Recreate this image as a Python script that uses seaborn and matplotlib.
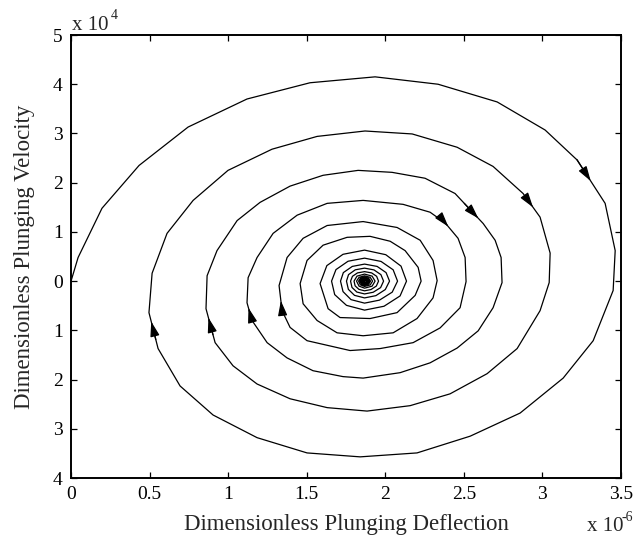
import numpy as np
import pandas as pd
import matplotlib
matplotlib.use("Agg")
import matplotlib.pyplot as plt
import seaborn as sns

# ---------------- data (x in units of 1e-6, y in units of 1e4) ----------------
loop1_x = [0.000, 0.045, 0.197, 0.433, 0.745, 1.120, 1.521, 1.935, 2.336, 2.712, 3.017, 3.221,
           3.399, 3.463, 3.450, 3.323, 3.132, 2.858, 2.540, 2.202, 1.840, 1.502, 1.184, 0.904,
           0.694, 0.554, 0.496]
loop1_y = [0.00, 0.48, 1.48, 2.35, 3.13, 3.70, 4.03, 4.15, 4.00, 3.64, 3.07, 2.46,
           1.58, 0.62, -0.19, -1.21, -1.97, -2.68, -3.15, -3.49, -3.57, -3.49, -3.18, -2.72,
           -2.13, -1.37, -0.64]

loop2_x = [0.516, 0.611, 0.777, 0.999, 1.279, 1.566, 1.871, 2.171, 2.457, 2.686, 2.877, 2.985,
           3.049, 3.043, 2.985, 2.839, 2.648, 2.412, 2.158, 1.884, 1.630, 1.394, 1.184, 1.031,
           0.917, 0.859]
loop2_y = [0.16, 0.97, 1.64, 2.25, 2.68, 2.94, 3.05, 2.99, 2.72, 2.33, 1.78, 1.30,
           0.57, -0.03, -0.60, -1.37, -1.88, -2.29, -2.53, -2.64, -2.57, -2.39, -2.09, -1.72,
           -1.25, -0.56]

loop3_x = [0.866, 0.929, 1.057, 1.203, 1.394, 1.604, 1.827, 2.043, 2.253, 2.444, 2.623, 2.699,
           2.737, 2.743, 2.686, 2.591, 2.457, 2.285, 2.094, 1.859, 1.731, 1.540, 1.375, 1.248,
           1.152, 1.120]
loop3_y = [0.11, 0.62, 1.23, 1.60, 1.93, 2.15, 2.25, 2.21, 2.09, 1.78, 1.17, 0.83,
           0.48, -0.03, -0.54, -1.01, -1.36, -1.66, -1.86, -1.97, -1.94, -1.82, -1.56, -1.25,
           -0.80, -0.44]

loop4_x = [1.127, 1.184, 1.286, 1.439, 1.630, 1.859, 2.113, 2.285, 2.382, 2.463, 2.508, 2.514,
           2.476, 2.349, 2.177, 1.967, 1.776, 1.502, 1.394, 1.343, 1.324]
loop4_y = [0.07, 0.48, 0.97, 1.34, 1.58, 1.64, 1.56, 1.40, 1.18, 0.87, 0.48, -0.01,
           -0.54, -0.95, -1.25, -1.37, -1.41, -1.21, -0.94, -0.60, -0.09]

loop5_x = [1.375, 1.477, 1.630, 1.859, 2.075, 2.222, 2.304, 2.330, 2.304, 2.202, 2.050, 1.859,
           1.693, 1.566, 1.477, 1.458]
loop5_y = [0.48, 0.87, 1.13, 1.21, 1.09, 0.83, 0.42, 0.01, -0.34, -0.76, -1.05, -1.11,
           -1.05, -0.80, -0.46, -0.05]

loop6_x = [1.502, 1.604, 1.757, 1.903, 2.031, 2.126, 2.209, 2.228, 2.190, 2.075, 1.903, 1.712,
           1.636, 1.585]
loop6_y = [0.42, 0.73, 0.89, 0.91, 0.81, 0.62, 0.28, 0.00, -0.29, -0.64, -0.76, -0.74,
           -0.56, -0.05]

loop7_8_x = [1.628, 1.731, 1.868, 2.003, 2.100, 2.135, 2.094, 1.992, 1.868, 1.753, 1.678, 1.658,
             1.686, 1.763, 1.868, 1.973, 2.050, 2.078, 2.044, 1.963, 1.868, 1.782, 1.731, 1.715]
loop7_8_y = [0.315, 0.545, 0.630, 0.537, 0.305, 0.000, -0.301, -0.510, -0.589, -0.492, -0.274, 0.000,
             0.234, 0.404, 0.467, 0.400, 0.230, 0.000, -0.224, -0.386, -0.447, -0.376, -0.213, 0.000]

loop9_11_x = [1.733, 1.790, 1.868, 1.948, 2.005, 2.027, 2.000, 1.940, 1.868, 1.804, 1.765, 1.753,
              1.766, 1.809, 1.868, 1.928, 1.972, 1.989, 1.970, 1.923, 1.868, 1.819, 1.788, 1.779,
              1.791, 1.823, 1.868, 1.913, 1.945, 1.957, 1.943, 1.909, 1.868, 1.832, 1.808, 1.801]
loop9_11_y = [0.173, 0.299, 0.346, 0.299, 0.173, 0.000, -0.171, -0.295, -0.341, -0.289, -0.167, 0.000,
              0.132, 0.230, 0.264, 0.228, 0.132, 0.000, -0.132, -0.226, -0.260, -0.222, -0.128, 0.000,
              0.098, 0.167, 0.193, 0.167, 0.098, 0.000, -0.100, -0.171, -0.197, -0.167, -0.096, 0.000]

core_x = [1.820, 1.868, 1.916, 1.935, 1.916, 1.868, 1.833, 1.817,
          1.833, 1.868, 1.904, 1.919, 1.904, 1.868, 1.841, 1.830,
          1.841, 1.868, 1.895, 1.906, 1.895, 1.868, 1.848, 1.839,
          1.848, 1.868, 1.888, 1.897, 1.888, 1.868, 1.853, 1.846,
          1.853, 1.868, 1.883, 1.890, 1.883, 1.868, 1.857, 1.851,
          1.857, 1.868, 1.879, 1.885, 1.879, 1.868, 1.860, 1.855,
          1.860, 1.868, 1.876, 1.880, 1.876, 1.868, 1.862, 1.859,
          1.868]
core_y = [0.102, 0.143, 0.102, 0.0, -0.102, -0.143, -0.102, 0.0,
          0.077, 0.108, 0.077, 0.0, -0.077, -0.108, -0.075, 0.0,
          0.057, 0.081, 0.057, 0.0, -0.057, -0.081, -0.057, 0.0,
          0.043, 0.061, 0.043, 0.0, -0.043, -0.061, -0.043, 0.0,
          0.033, 0.047, 0.033, 0.0, -0.033, -0.047, -0.033, 0.0,
          0.024, 0.035, 0.024, 0.0, -0.024, -0.035, -0.024, 0.0,
          0.018, 0.026, 0.018, 0.0, -0.018, -0.026, -0.018, 0.0,
          0.0]

# arrow tips
arrow_tip_x = [3.316, 0.512, 2.941, 0.878, 2.591, 1.133, 2.387, 1.330]
arrow_tip_y = [2.05, -0.82, 1.50, -0.74, 1.27, -0.54, 1.07, -0.40]

x_ticks = [0, 0.5, 1, 1.5, 2, 2.5, 3, 3.5]
x_tick_labels = ["0", "0.5", "1", "1.5", "2", "2.5", "3", "3.5"]
y_ticks = [-4, -3, -2, -1, 0, 1, 2, 3, 4, 5]
y_tick_labels = ["4", "3", "2", "1", "0", "1", "2", "3", "4", "5"]

x_label = "Dimensionless Plunging Deflection"
y_label = "Dimensionless Plunging Velocity"
x_exp = "-6"
y_exp = "4"

# ---------------- plot ----------------
sns.set_style("ticks")
plt.rcParams["font.family"] = ["Liberation Serif", "DejaVu Serif"]

fig = plt.figure(figsize=(6.41, 5.47), dpi=100)
ax = fig.add_axes([0.1108, 0.1261, 0.858, 0.8099])

xs = np.concatenate([loop1_x, loop2_x, loop3_x, loop4_x, loop5_x, loop6_x,
                     loop7_8_x, loop9_11_x, core_x])
ys = np.concatenate([loop1_y, loop2_y, loop3_y, loop4_y, loop5_y, loop6_y,
                     loop7_8_y, loop9_11_y, core_y])
df = pd.DataFrame({"x": xs, "y": ys})

sns.lineplot(data=df, x="x", y="y", sort=False, estimator=None,
             color="black", lw=0.9, ax=ax)

ax.set_xlim(0, 3.5)
ax.set_ylim(-4, 5)

# arrows on the trajectory
pix = ax.transData.transform(np.column_stack([xs, ys]))
for tx, ty in zip(arrow_tip_x, arrow_tip_y):
    tp = ax.transData.transform((tx, ty))
    best = None
    for i in range(len(pix) - 1):
        p0, p1 = pix[i], pix[i + 1]
        d = p1 - p0
        L2 = d @ d
        if L2 == 0:
            continue
        t = np.clip(((tp - p0) @ d) / L2, 0, 1)
        q = p0 + t * d
        dist = np.hypot(*(tp - q))
        if best is None or dist < best[0]:
            best = (dist, i, t)
    _, i, t = best
    x0, y0 = xs[i], ys[i]
    x1, y1 = xs[i + 1], ys[i + 1]
    hx, hy = x0 + t * (x1 - x0), y0 + t * (y1 - y0)
    ax.annotate("", xy=(hx, hy), xytext=(hx - 0.5 * (x1 - x0), hy - 0.5 * (y1 - y0)),
                arrowprops=dict(arrowstyle="-|>,head_length=0.9,head_width=0.28",
                                color="black", lw=0.9, shrinkA=0, shrinkB=0,
                                mutation_scale=10))

ax.set_xticks(x_ticks)
ax.set_xticklabels(x_tick_labels)
ax.set_yticks(y_ticks)
ax.set_yticklabels(y_tick_labels)
ax.tick_params(direction="in", top=True, right=True, length=4.5, width=0.9,
               labelsize=14, pad=6, colors="black")
for s in ax.spines.values():
    s.set_linewidth(1.4)
    s.set_color("black")
    s.set_visible(True)
ax.grid(False)

ax.set_xlabel(x_label, fontsize=16.5, labelpad=7.5)
ax.set_ylabel(y_label, fontsize=16.5, labelpad=13)

# exponent annotations
fig.text(72 / 641, 1 - 30 / 547, "x 10", fontsize=15, ha="left", va="baseline")
fig.text(111 / 641, 1 - 19 / 547, y_exp, fontsize=10, ha="left", va="baseline")
fig.text(587 / 641, 1 - 531 / 547, "x 10", fontsize=15, ha="left", va="baseline")
fig.text(622 / 641, 1 - 521 / 547, x_exp, fontsize=10, ha="left", va="baseline")

fig.savefig("out.png", dpi=100)
